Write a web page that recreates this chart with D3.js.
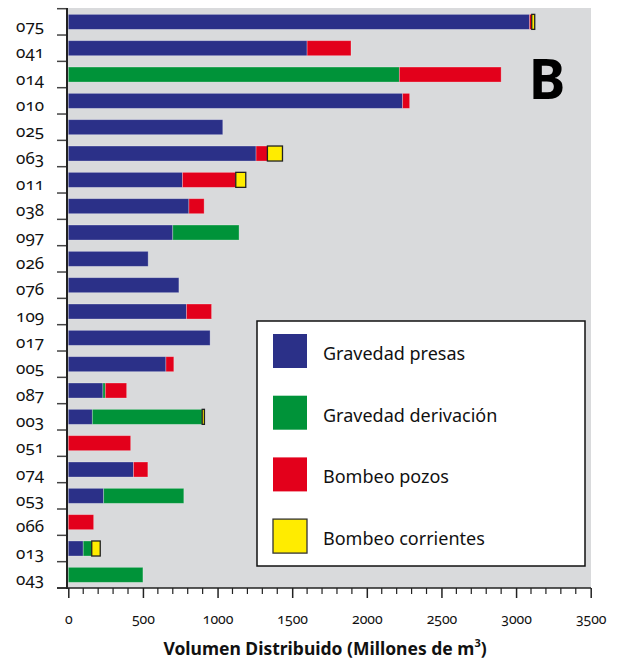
<!DOCTYPE html>
<html>
<head>
<meta charset="utf-8">
<script src="https://cdn.jsdelivr.net/npm/d3@7"></script>
<style>
  body { margin: 0; background: #fff; }
  text { font-family: "Noto Sans", "Open Sans", sans-serif; }
  .onum { font-variant-numeric: oldstyle-nums; font-feature-settings: "onum" 1; }
</style>
</head>
<body>
<div id="chart"></div>
<script>
// categories, top to bottom
var categories = ['075', '041', '014', '010', '025', '063', '011', '038', '097', '026', '076',
                  '109', '017', '005', '087', '003', '051', '074', '053', '066', '013', '043'];

// values per source (Millones de m3)
var presas     = [3090, 1600,    0, 2240, 1035, 1258, 765, 808, 700, 535, 741, 792, 950, 654, 232, 161,   0, 437, 237,   0, 100,   0];
var derivacion = [   0,    0, 2218,    0,    0,    0,   0,   0, 444,   0,   0,   0,   0,   0,  16, 736,   0,   0, 537,   0,  57, 500];
var pozos      = [  15,  294,  682,   47,    0,   76, 357, 102,   0,   0,   0, 168,   0,  53, 143,   0, 418,  96,   0, 170,   0,   0];
var corrientes = [  20,    0,    0,    0,    0,  101,  67,   0,   0,   0,   0,   0,   0,   0,   0,  15,   0,   0,   0,   0,  57,   0];

var seriesNames = ['Gravedad presas', 'Gravedad derivación', 'Bombeo pozos', 'Bombeo corrientes'];
var seriesColors = ['#2b3088', '#009339', '#e3001b', '#ffec00'];
var xTicks = [0, 500, 1000, 1500, 2000, 2500, 3000, 3500];

var table = categories.map(function (c, i) {
  return { cat: c, presas: presas[i], derivacion: derivacion[i], pozos: pozos[i], corrientes: corrientes[i] };
});
var keys = ['presas', 'derivacion', 'pozos', 'corrientes'];
var stacked = d3.stack().keys(keys)(table);

var width = 621, height = 662;
var svg = d3.select('#chart').append('svg')
  .attr('width', width)
  .attr('height', height);

var x = d3.scaleLinear().domain([0, 3500]).range([68.3, 590.7]);
var y = d3.scaleBand().domain(categories).range([8.7, 588]).paddingInner(0.43).paddingOuter(0.215);

// plot background
svg.append('rect')
  .attr('x', 67).attr('y', 8)
  .attr('width', 591 - 67).attr('height', 588 - 8)
  .attr('fill', '#d9dadc');

// bars
svg.selectAll('.series')
  .data(stacked)
  .enter().append('g')
    .attr('class', 'series')
    .attr('fill', function (d, i) { return seriesColors[i]; })
  .selectAll('rect')
  .data(function (d) { return d.map(function (p) { return { p: p, key: d.key }; }); })
  .enter().append('rect')
    .filter(function (d) { return d.p[1] - d.p[0] > 0; })
    .attr('x', function (d) { return x(d.p[0]); })
    .attr('y', function (d) { return y(d.p.data.cat); })
    .attr('width', function (d) { return x(d.p[1]) - x(d.p[0]); })
    .attr('height', y.bandwidth())
    .attr('stroke', function (d) { return d.key === 'corrientes' ? '#222' : 'rgba(255,255,255,0.35)'; })
    .attr('stroke-width', function (d) { return d.key === 'corrientes' ? 1.3 : 0.8; });

// y axis line + ticks at band boundaries
var step = y.step();
var y0 = y.range()[0];
svg.append('g').selectAll('line')
  .data(d3.range(categories.length + 1))
  .enter().append('line')
    .attr('x1', 57).attr('x2', 67)
    .attr('y1', function (i) { return y0 + i * step; })
    .attr('y2', function (i) { return y0 + i * step; })
    .attr('stroke', '#444').attr('stroke-width', 1.5);

svg.append('line')
  .attr('x1', 67).attr('x2', 67).attr('y1', 8).attr('y2', 589)
  .attr('stroke', '#222').attr('stroke-width', 2);

// category labels
svg.append('g').selectAll('text')
  .data(categories)
  .enter().append('text')
    .attr('class', 'onum')
    .attr('x', 44)
    .attr('y', function (d) { return y(d) + y.bandwidth() / 2 + 10; })
    .attr('text-anchor', 'end')
    .attr('font-size', 17)
    .attr('fill', '#111')
    .text(function (d) { return d; });

// x axis
var xAxis = d3.axisBottom(x).tickValues(xTicks).tickFormat(d3.format('d')).tickSize(10).tickPadding(16);
var gx = svg.append('g')
  .attr('transform', 'translate(0,588)')
  .call(xAxis);
gx.select('.domain').remove();
gx.selectAll('.tick line').attr('stroke', '#222').attr('stroke-width', 1.5);
gx.selectAll('.tick text')
  .attr('class', 'onum')
  .attr('font-size', 14)
  .attr('fill', '#111');

// minor ticks every 100
svg.append('g').selectAll('line')
  .data(d3.range(0, 3501, 100).filter(function (v) { return v % 500 !== 0; }))
  .enter().append('line')
    .attr('x1', function (v) { return x(v); }).attr('x2', function (v) { return x(v); })
    .attr('y1', 588).attr('y2', 594)
    .attr('stroke', '#222').attr('stroke-width', 1.2);

svg.append('line')
  .attr('x1', 57).attr('x2', 591).attr('y1', 588).attr('y2', 588)
  .attr('stroke', '#222').attr('stroke-width', 1.5);

// x axis title
var title = svg.append('text')
  .attr('x', 325).attr('y', 655)
  .attr('text-anchor', 'middle')
  .attr('font-size', 17.5)
  .attr('font-weight', 'bold')
  .attr('fill', '#111');
title.append('tspan').text('Volumen Distribuido (Millones de m');
title.append('tspan').attr('font-size', 11).attr('dy', -8).text('3');
title.append('tspan').attr('dy', 8).text(')');

// panel letter
svg.append('text')
  .attr('x', 547).attr('y', 99)
  .attr('text-anchor', 'middle')
  .attr('font-size', 55)
  .attr('font-weight', 'bold')
  .attr('fill', '#000')
  .text('B');

// legend
var legend = svg.append('g');
legend.append('rect')
  .attr('x', 257).attr('y', 321)
  .attr('width', 328).attr('height', 245)
  .attr('fill', '#fff').attr('stroke', '#111').attr('stroke-width', 1.5);

var item = legend.selectAll('.item')
  .data(seriesNames)
  .enter().append('g')
    .attr('class', 'item')
    .attr('transform', function (d, i) { return 'translate(273,' + (334 + i * 61.7) + ')'; });

item.append('rect')
  .attr('width', 34).attr('height', 34)
  .attr('fill', function (d, i) { return seriesColors[i]; })
  .attr('stroke', function (d, i) { return i === 3 ? '#333' : 'none'; })
  .attr('stroke-width', 1.3);

item.append('text')
  .attr('x', 50).attr('y', 26)
  .attr('font-size', 18)
  .attr('fill', '#111')
  .text(function (d) { return d; });
</script>
</body>
</html>
